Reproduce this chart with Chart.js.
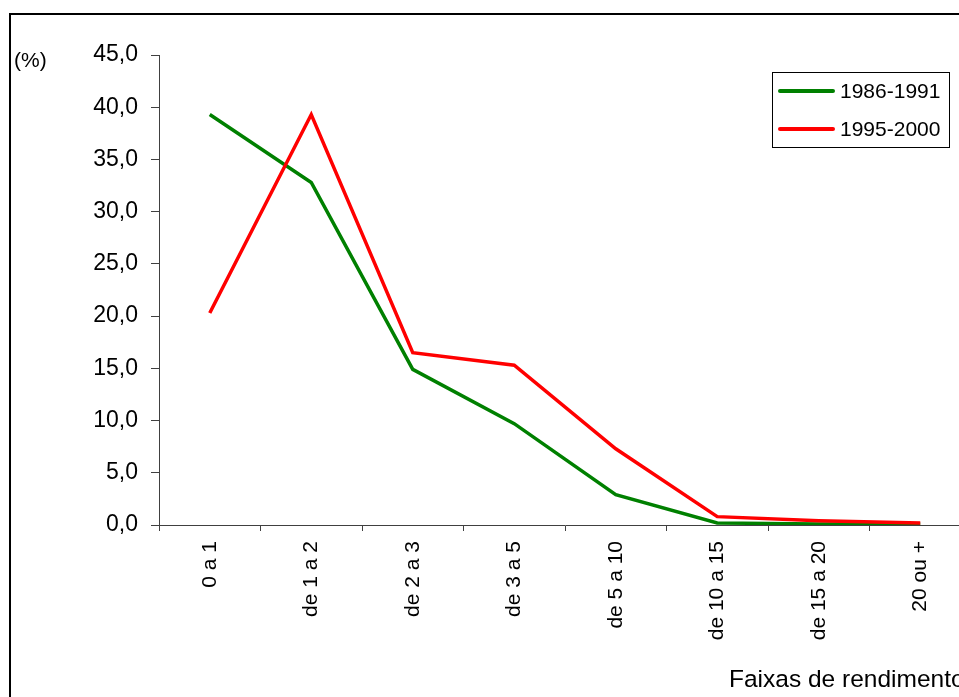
<!DOCTYPE html>
<html>
<head>
<meta charset="utf-8">
<script src="https://cdn.jsdelivr.net/npm/chart.js@4"></script>
<style>
  html, body { margin: 0; padding: 0; background: #fff; overflow: hidden; width: 959px; height: 697px; }
  #frame { position: absolute; left: 9px; top: 13px; width: 2000px; height: 2000px; border-left: 2px solid #000; border-top: 2px solid #000; }
  #wrap { position: absolute; left: 0; top: 0; width: 980px; height: 720px; }
</style>
</head>
<body>
<div id="frame"></div>
<div id="wrap"><canvas id="chart"></canvas></div>
<script>
// Dados
const faixas = ['0 a 1', 'de 1 a 2', 'de 2 a 3', 'de 3 a 5', 'de 5 a 10', 'de 10 a 15', 'de 15 a 20', '20 ou +'];
const periodo1 = [39.3, 32.8, 14.9, 9.7, 2.9, 0.2, 0.1, 0.1];   // 1986-1991
const periodo2 = [20.3, 39.3, 16.5, 15.3, 7.3, 0.8, 0.4, 0.2];  // 1995-2000
const yTicks = [0, 5, 10, 15, 20, 25, 30, 35, 40, 45];

const FONT = "'Liberation Sans', Arial, sans-serif";
const AXIS = '#404040';

// Legenda com caixa e textos extras
const extras = {
    id: 'extras',
    afterDraw(chart) {
        const ctx = chart.ctx;
        ctx.save();
        ctx.fillStyle = '#000';
        ctx.font = '21px ' + FONT;
        ctx.textBaseline = 'alphabetic';
        ctx.textAlign = 'left';
        ctx.fillText('(%)', 14, 67);
        ctx.font = '24.5px ' + FONT;
        ctx.fillText('Faixas de rendimento', 729, 687);

        // legenda
        ctx.strokeStyle = '#000';
        ctx.lineWidth = 1;
        ctx.strokeRect(772.5, 72.5, 177, 75);
        const rows = [91, 129];
        ctx.font = '21px ' + FONT;
        ctx.textBaseline = 'middle';
        chart.data.datasets.forEach((ds, i) => {
            ctx.strokeStyle = ds.borderColor;
            ctx.lineWidth = 4;
            ctx.lineCap = 'round';
            ctx.beginPath();
            ctx.moveTo(780, rows[i]);
            ctx.lineTo(833, rows[i]);
            ctx.stroke();
            ctx.fillStyle = '#000';
            ctx.fillText(ds.label, 840, rows[i] + 1);
        });
        ctx.restore();
    }
};

const ctx = document.getElementById('chart').getContext('2d');
new Chart(ctx, {
    type: 'line',
    data: {
        labels: faixas,
        datasets: [
            { label: '1986-1991', data: periodo1, borderColor: '#008000', borderWidth: 3.5, pointRadius: 0, tension: 0, order: 1 },
            { label: '1995-2000', data: periodo2, borderColor: '#ff0000', borderWidth: 3.5, pointRadius: 0, tension: 0, order: 0 }
        ]
    },
    options: {
        responsive: true,
        maintainAspectRatio: false,
        animation: false,
        layout: { padding: { top: 55, left: 0, right: 9, bottom: 0 } },
        plugins: { legend: { display: false }, tooltip: { enabled: false } },
        scales: {
            x: {
                offset: true,
                grid: { drawOnChartArea: false, drawTicks: true, tickLength: 6, color: AXIS, offset: true },
                border: { color: AXIS, width: 1 },
                ticks: { color: '#000', font: { family: FONT, size: 21 }, minRotation: 90, maxRotation: 90, padding: 10, autoSkip: false },
                afterFit(s) { s.height = 195; s.paddingLeft = 0; s.paddingRight = 0; }
            },
            y: {
                min: 0,
                max: 45,
                afterBuildTicks(s) { s.ticks = yTicks.map(v => ({ value: v })); },
                grid: { drawOnChartArea: false, drawTicks: true, tickLength: 8, color: AXIS },
                border: { color: AXIS, width: 1 },
                ticks: { color: '#000', font: { family: FONT, size: 23 }, padding: 13, callback: v => v.toFixed(1).replace('.', ',') },
                afterFit(s) { s.width = 159; s.paddingTop = 0; s.paddingBottom = 0; }
            }
        }
    },
    plugins: [extras]
});
</script>
</body>
</html>
